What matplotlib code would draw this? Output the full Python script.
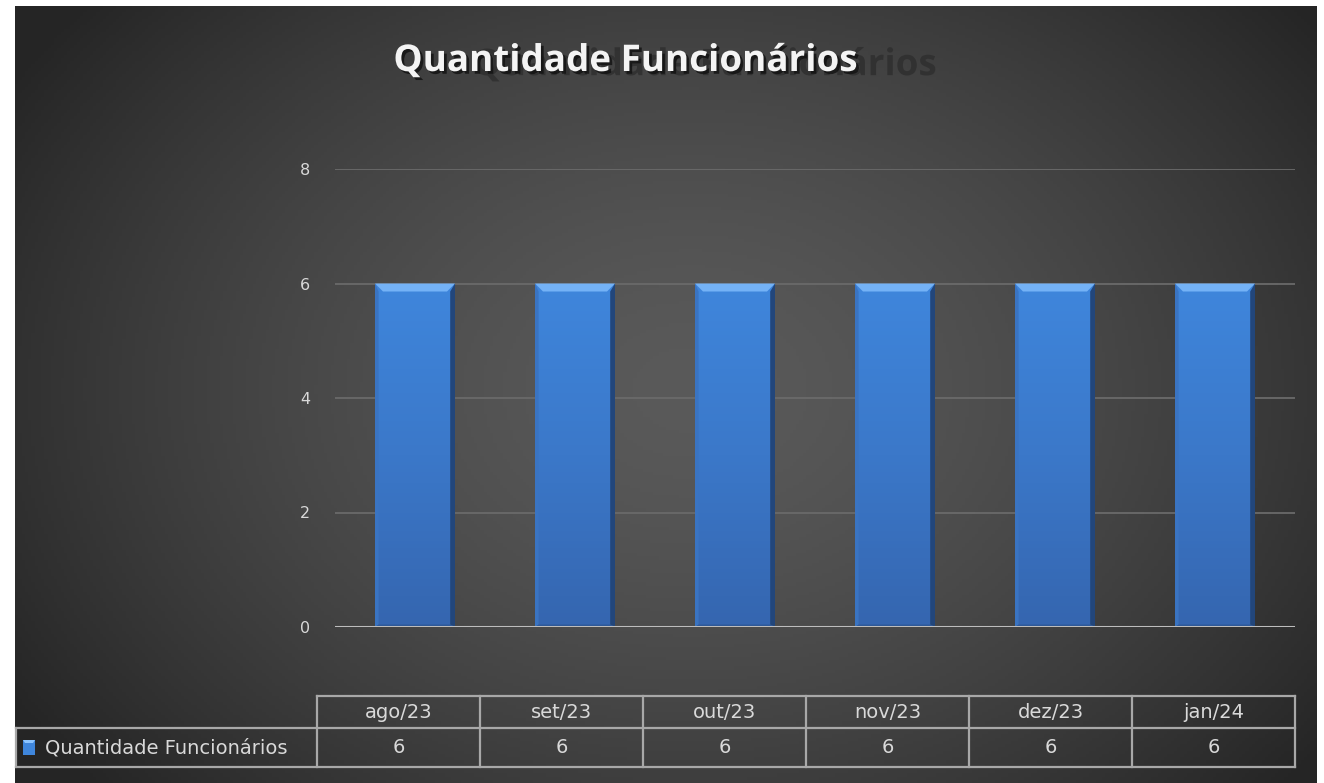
import numpy as np
import matplotlib
matplotlib.use("Agg")
import matplotlib.pyplot as plt
from matplotlib.patches import Polygon, Rectangle
from matplotlib.lines import Line2D
import matplotlib.patheffects as pe

# ---------------- data ----------------
title = "Quantidade Funcionários"
series_name = "Quantidade Funcionários"
categories = ["ago/23", "set/23", "out/23", "nov/23", "dez/23", "jan/24"]
values = [6, 6, 6, 6, 6, 6]
yticks = [0, 2, 4, 6, 8]

W, H = 1324, 783
fig = plt.figure(figsize=(W / 100, H / 100), dpi=100)
fig.patch.set_facecolor("white")


def fx(x):
    return x / W


def fy(y):
    return 1 - y / H


# ---------------- background (radial gradient) ----------------
bg = fig.add_axes([fx(15), 0, fx(1317) - fx(15), fy(6)])
bg.set_axis_off()
nx, ny = 400, 240
gx = np.linspace(15, 1317, nx)
gy = np.linspace(6, 783, ny)
X, Y = np.meshgrid(gx, gy)
r = np.sqrt(((X - 690) / 800) ** 2 + ((Y - 390) / 600) ** 2)
r = np.clip(r, 0, 1)
c_in = np.array([0x5a, 0x5a, 0x5a]) / 255
c_out = np.array([0x25, 0x25, 0x25]) / 255
w = r[..., None] ** 1.5
img = c_in[None, None, :] * (1 - w) + c_out[None, None, :] * w
bg.imshow(img, aspect="auto", extent=[0, 1, 0, 1], origin="upper")
bg.set_xlim(0, 1)
bg.set_ylim(0, 1)

# ---------------- main axes ----------------
ax = fig.add_axes([fx(335), fy(627), fx(1295) - fx(335), fy(169) - fy(627)])
ax.patch.set_alpha(0)
ax.set_xlim(-0.5, len(categories) - 0.5)
ax.set_ylim(0, 8)
for s in ax.spines.values():
    s.set_visible(False)
ax.set_yticks(yticks)
ax.set_yticklabels([str(t) for t in yticks], color="#d9d9d9", fontsize=11.5,
                   family="DejaVu Sans")
ax.tick_params(axis="y", length=0, pad=18)
ax.set_xticks([])
for t in yticks[1:]:
    ax.axhline(t, color="#6a6a6a", lw=1.3, zorder=0)
ax.axhline(0, color="#bdbdbd", lw=2.2, zorder=5)

bar_w = 0.5
bars = ax.bar(range(len(categories)), values, width=bar_w, color="#3b7bd0",
              edgecolor="none", zorder=2)

dx = 0.05
dy = 0.14
grad = np.linspace(0, 1, 100)[:, None]
cmap = matplotlib.colors.LinearSegmentedColormap.from_list(
    "b", ["#3f86dc", "#3b78c9", "#3566b0"])
for b in bars:
    x0 = b.get_x()
    x1 = x0 + b.get_width()
    h = b.get_height()
    im = ax.imshow(grad, cmap=cmap, extent=[x0, x1, 0, h], aspect="auto",
                   origin="upper", zorder=2.1)
    im.set_clip_path(b)
    # top bevel
    ax.add_patch(Polygon([(x0, h), (x1, h), (x1 - dx, h - dy), (x0 + dx, h - dy)],
                         closed=True, color="#74b2f6", lw=0, zorder=3))
    # right bevel
    ax.add_patch(Polygon([(x1, h), (x1, 0), (x1 - dx * 0.6, dy * 0.3), (x1 - dx * 0.6, h - dy)],
                         closed=True, color="#22467b", lw=0, zorder=3))
    # left bevel
    ax.add_patch(Polygon([(x0, h), (x0, 0), (x0 + dx * 0.45, dy * 0.3), (x0 + dx * 0.45, h - dy)],
                         closed=True, color="#3a74c2", lw=0, zorder=3))
    # bottom bevel
    ax.add_patch(Polygon([(x0, 0), (x1, 0), (x1 - dx * 0.6, dy * 0.3), (x0 + dx * 0.45, dy * 0.3)],
                         closed=True, color="#2c5796", lw=0, zorder=3))

# ---------------- title (with its dark ghost shadow) ----------------
fig.text(fx(625), fy(61), title, ha="center", va="center",
         fontsize=26.5, fontweight="bold", family="Open Sans", color="#f4f4f4",
         path_effects=[
             pe.SimplePatchShadow(offset=(57, -3), shadow_rgbFace="#2f2f2f", alpha=0.85),
             pe.SimplePatchShadow(offset=(2, -2), shadow_rgbFace="#111111", alpha=0.8),
             pe.Normal()])

# ---------------- data table ----------------
lc = "#a8a8a8"
lw = 1.6
t_top, t_mid, t_bot = 696, 728, 767
c_left = 317
c_right = 1295
head_left = 16
n = len(categories)
col_w = (c_right - c_left) / n


def hline(y, xa, xb):
    fig.add_artist(Line2D([fx(xa), fx(xb)], [fy(y), fy(y)], color=lc, lw=lw))


def vline(x, ya, yb):
    fig.add_artist(Line2D([fx(x), fx(x)], [fy(ya), fy(yb)], color=lc, lw=lw))


hline(t_top, c_left, c_right)
hline(t_mid, head_left, c_right)
hline(t_bot, head_left, c_right)
vline(head_left, t_mid, t_bot)
for i in range(n + 1):
    vline(c_left + i * col_w, t_top, t_bot)

tfs = 14
for i, (cat, v) in enumerate(zip(categories, values)):
    cx = c_left + (i + 0.5) * col_w
    fig.text(fx(cx), fy((t_top + t_mid) / 2), cat, ha="center", va="center",
             fontsize=tfs, family="DejaVu Sans", color="#d9d9d9")
    fig.text(fx(cx), fy((t_mid + t_bot) / 2), str(v), ha="center", va="center",
             fontsize=tfs, family="DejaVu Sans", color="#d9d9d9")

# legend key
fig.add_artist(Rectangle((fx(23), fy(755)), fx(35) - fx(23), fy(740) - fy(755),
                         transform=fig.transFigure, color="#3f86dc", lw=0))
fig.add_artist(Polygon([(fx(23), fy(740)), (fx(35), fy(740)), (fx(33), fy(743)), (fx(25), fy(743))],
                       closed=True, transform=fig.transFigure, color="#8cc4ff", lw=0))
fig.text(fx(45), fy((t_mid + t_bot) / 2), series_name, ha="left", va="center",
         fontsize=tfs, family="DejaVu Sans", color="#d9d9d9")

fig.savefig("out.png", dpi=100, facecolor=fig.get_facecolor())
